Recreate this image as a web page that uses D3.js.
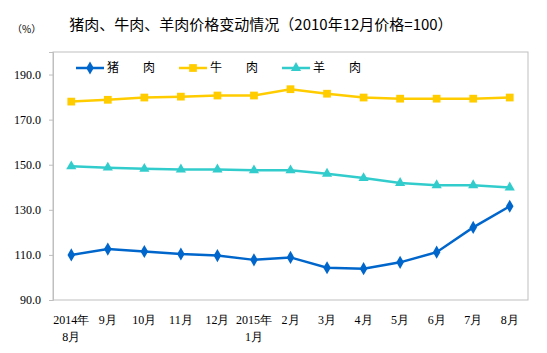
<!DOCTYPE html>
<html>
<head>
<meta charset="utf-8">
<script src="https://cdn.jsdelivr.net/npm/d3@7"></script>
<style>
  body { margin: 0; background: #fff; }
  svg { display: block; }
</style>
</head>
<body>
<div id="chart"></div>
<script>
// 月份（两行标签）
const months = [
  ["2014年", "8月"], ["9月"], ["10月"], ["11月"], ["12月"], ["2015年", "1月"],
  ["2月"], ["3月"], ["4月"], ["5月"], ["6月"], ["7月"], ["8月"]
];
const pork   = [110.0, 112.6, 111.5, 110.4, 109.7, 107.8, 108.9, 104.3, 103.9, 106.7, 111.2, 122.2, 131.6];
const beef   = [178.0, 178.8, 179.8, 180.2, 180.7, 180.7, 183.5, 181.5, 179.8, 179.3, 179.3, 179.3, 179.8];
const mutton = [149.3, 148.7, 148.2, 147.9, 147.9, 147.5, 147.5, 146.0, 144.1, 141.9, 140.9, 140.9, 139.9];
const yTicks = [90, 110, 130, 150, 170, 190];

const series = [
  { name: "猪　　肉", values: pork, color: "#0066CC", symbol: d3.symbolDiamond, size: 50 },
  { name: "牛　　肉", values: beef, color: "#FFCC00", symbol: d3.symbolSquare, size: 60 },
  { name: "羊　　肉", values: mutton, color: "#33CCCC", symbol: d3.symbolTriangle, size: 45 }
];

const width = 547, height = 353;
const margin = { top: 52, right: 19, bottom: 53, left: 53 };

const svg = d3.select("#chart").append("svg")
  .attr("width", width)
  .attr("height", height);

const x = d3.scaleBand()
  .domain(d3.range(months.length))
  .range([margin.left, width - margin.right]);

const y = d3.scaleLinear()
  .domain([90, 200])
  .range([height - margin.bottom, margin.top]);

// 绘图区边框
svg.append("rect")
  .attr("x", margin.left)
  .attr("y", margin.top)
  .attr("width", width - margin.left - margin.right)
  .attr("height", height - margin.top - margin.bottom)
  .attr("fill", "none")
  .attr("stroke", "#BFBFBF")
  .attr("stroke-width", 1);

// Y 轴
const yAxis = svg.append("g")
  .attr("transform", `translate(${margin.left},0)`)
  .call(d3.axisLeft(y).tickValues(yTicks).tickSize(4).tickFormat(d3.format(".1f")));
yAxis.select(".domain").attr("stroke", "#BFBFBF");
yAxis.selectAll(".tick line").attr("stroke", "#BFBFBF");
yAxis.selectAll("text")
  .attr("x", -12)
  .attr("fill", "#000")
  .style("font-family", "'Liberation Serif', 'Times New Roman', serif")
  .style("font-size", "12px");

// X 轴标签
const xLabels = svg.append("g");
months.forEach((m, i) => {
  const t = xLabels.append("text")
    .attr("x", x(i) + x.bandwidth() / 2)
    .attr("y", 324)
    .attr("text-anchor", "middle")
    .style("font-family", "'Liberation Serif', 'Times New Roman', serif")
    .style("font-size", "12px")
    .attr("fill", "#000");
  m.forEach((s, k) => {
    t.append("tspan")
      .attr("x", x(i) + x.bandwidth() / 2)
      .attr("dy", k === 0 ? 0 : 17)
      .text(s);
  });
});

// 折线
const line = d3.line()
  .x((d, i) => x(i) + x.bandwidth() / 2)
  .y(d => y(d));

series.forEach(s => {
  svg.append("path")
    .datum(s.values)
    .attr("fill", "none")
    .attr("stroke", s.color)
    .attr("stroke-width", 2.5)
    .attr("d", line);

  svg.append("g").selectAll("path")
    .data(s.values)
    .enter()
    .append("path")
    .attr("transform", (d, i) => `translate(${x(i) + x.bandwidth() / 2},${y(d)})`)
    .attr("d", d3.symbol().type(s.symbol).size(s.size))
    .attr("fill", s.color);
});

// 图例
const legend = svg.append("g");
series.forEach((s, i) => {
  const lx = 76 + i * 103;
  const ly = 68;
  legend.append("line")
    .attr("x1", lx).attr("x2", lx + 28)
    .attr("y1", ly).attr("y2", ly)
    .attr("stroke", s.color)
    .attr("stroke-width", 2.5);
  legend.append("path")
    .attr("transform", `translate(${lx + 14},${ly})`)
    .attr("d", d3.symbol().type(s.symbol).size(s.size))
    .attr("fill", s.color);
  legend.append("text")
    .attr("x", lx + 31)
    .attr("y", ly + 4)
    .style("font-family", "'Noto Sans CJK SC', sans-serif")
    .style("font-size", "12px")
    .attr("fill", "#000")
    .text(s.name);
});

// 标题
svg.append("text")
  .attr("x", 261)
  .attr("y", 30)
  .attr("text-anchor", "middle")
  .style("font-family", "'Noto Sans CJK SC', sans-serif")
  .style("font-size", "15px")
  .attr("fill", "#000")
  .text("猪肉、牛肉、羊肉价格变动情况（2010年12月价格=100）");

svg.append("text")
  .attr("x", 12)
  .attr("y", 33)
  .style("font-family", "'Noto Sans CJK SC', sans-serif")
  .style("font-size", "10px")
  .attr("fill", "#000")
  .text("（%）");
</script>
</body>
</html>
